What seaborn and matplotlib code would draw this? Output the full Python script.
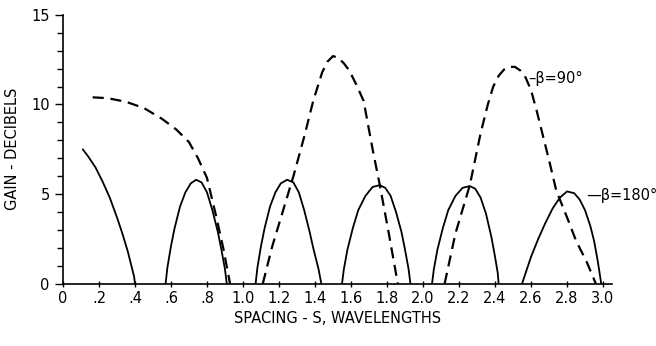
import matplotlib
matplotlib.use("Agg")
import matplotlib.pyplot as plt
import seaborn as sns
import pandas as pd

# beta = 180 deg (solid), six lobes
s180_1 = [0.11, 0.14, 0.18, 0.22, 0.26, 0.30, 0.33, 0.36, 0.38, 0.395, 0.40]
g180_1 = [7.5, 7.1, 6.5, 5.7, 4.8, 3.7, 2.8, 1.8, 1.0, 0.4, 0.0]
s180_2 = [0.57, 0.58, 0.60, 0.62, 0.65, 0.68, 0.71, 0.74, 0.77, 0.80, 0.83, 0.86, 0.88, 0.90, 0.91]
g180_2 = [0.0, 0.9, 2.1, 3.1, 4.3, 5.1, 5.6, 5.8, 5.65, 5.1, 4.1, 2.9, 1.9, 0.8, 0.0]
s180_3 = [1.07, 1.08, 1.10, 1.12, 1.15, 1.18, 1.21, 1.245, 1.28, 1.31, 1.34, 1.37, 1.39, 1.42, 1.435]
g180_3 = [0.0, 0.9, 2.1, 3.1, 4.3, 5.1, 5.6, 5.8, 5.65, 5.1, 4.1, 2.9, 2.0, 0.8, 0.0]
s180_4 = [1.55, 1.56, 1.58, 1.61, 1.64, 1.68, 1.72, 1.76, 1.79, 1.82, 1.85, 1.88, 1.90, 1.92, 1.93]
g180_4 = [0.0, 0.8, 1.9, 3.1, 4.1, 4.9, 5.4, 5.5, 5.35, 4.9, 4.0, 2.9, 1.9, 0.8, 0.0]
s180_5 = [2.05, 2.06, 2.08, 2.11, 2.14, 2.18, 2.22, 2.26, 2.29, 2.32, 2.35, 2.38, 2.40, 2.415, 2.42]
g180_5 = [0.0, 0.8, 1.9, 3.1, 4.1, 4.9, 5.35, 5.45, 5.3, 4.8, 3.9, 2.6, 1.5, 0.6, 0.0]
s180_6 = [2.55, 2.57, 2.60, 2.64, 2.68, 2.72, 2.76, 2.80, 2.84, 2.87, 2.90, 2.93, 2.95, 2.97, 2.99]
g180_6 = [0.0, 0.6, 1.5, 2.5, 3.4, 4.2, 4.8, 5.15, 5.05, 4.7, 4.1, 3.2, 2.4, 1.3, 0.0]

# beta = 90 deg (dashed), three lobes
s90_1 = [0.165, 0.25, 0.35, 0.45, 0.55, 0.63, 0.70, 0.75, 0.80, 0.85, 0.89, 0.928]
g90_1 = [10.4, 10.35, 10.15, 9.8, 9.2, 8.6, 7.9, 7.0, 5.9, 3.8, 2.0, 0.0]
s90_2 = [1.11, 1.16, 1.22, 1.28, 1.34, 1.39, 1.44, 1.47, 1.50, 1.53, 1.56, 1.59, 1.63, 1.67, 1.72, 1.76, 1.81, 1.86]
g90_2 = [0.0, 2.0, 4.0, 6.0, 8.2, 10.2, 11.8, 12.4, 12.7, 12.6, 12.3, 11.9, 11.1, 10.2, 7.5, 5.5, 2.8, 0.0]
s90_3 = [2.12, 2.18, 2.26, 2.32, 2.36, 2.39, 2.42, 2.45, 2.48, 2.51, 2.54, 2.57, 2.60, 2.63,
         2.66, 2.70, 2.74, 2.80, 2.85, 2.91, 2.96]
g90_3 = [0.0, 2.8, 5.5, 8.4, 10.0, 11.0, 11.6, 11.95, 12.1, 12.1, 11.9, 11.5, 10.8, 9.7,
         8.5, 6.9, 5.2, 3.7, 2.4, 1.2, 0.0]

x_ticks = [0, 0.2, 0.4, 0.6, 0.8, 1.0, 1.2, 1.4, 1.6, 1.8, 2.0, 2.2, 2.4, 2.6, 2.8, 3.0]
x_labels = ["0", ".2", ".4", ".6", ".8", "1.0", "1.2", "1.4", "1.6", "1.8",
            "2.0", "2.2", "2.4", "2.6", "2.8", "3.0"]
y_ticks = [0, 5, 10, 15]
y_labels = ["0", "5", "10", "15"]

sns.set_style("ticks")
plt.rcParams["font.family"] = ["DejaVu Sans"]
plt.rcParams["text.color"] = "black"
plt.rcParams["axes.labelcolor"] = "black"
plt.rcParams["xtick.color"] = "black"
plt.rcParams["ytick.color"] = "black"
plt.rcParams["axes.edgecolor"] = "black"

fig = plt.figure(figsize=(6.56, 3.46), dpi=100)
ax = fig.add_axes([0.096, 0.180, 0.837, 0.777])

solid = [(s180_1, g180_1), (s180_2, g180_2), (s180_3, g180_3),
         (s180_4, g180_4), (s180_5, g180_5), (s180_6, g180_6)]
dashed = [(s90_1, g90_1), (s90_2, g90_2), (s90_3, g90_3)]

for s, g in solid:
    df = pd.DataFrame({"s": s, "g": g})
    sns.lineplot(data=df, x="s", y="g", sort=False, estimator=None, ax=ax,
                 color="black", linewidth=1.3)
for s, g in dashed:
    df = pd.DataFrame({"s": s, "g": g})
    sns.lineplot(data=df, x="s", y="g", sort=False, estimator=None, ax=ax,
                 color="black", linewidth=1.6, linestyle=(0, (5, 3)))

ax.set_xlim(0, 3.05)
ax.set_ylim(0, 15)
ax.set_xticks(x_ticks)
ax.set_xticklabels(x_labels)
ax.set_yticks(y_ticks)
ax.set_yticklabels(y_labels)
ax.set_yticks(range(0, 16), minor=True)
ax.tick_params(axis="both", labelsize=10.5, width=1.0, color="black", labelcolor="black")
ax.tick_params(axis="y", which="major", length=6)
ax.tick_params(axis="y", which="minor", length=4, width=1.0)
ax.tick_params(axis="x", which="major", length=4, direction="inout")
ax.spines["top"].set_visible(False)
ax.spines["right"].set_visible(False)
ax.spines["left"].set_linewidth(1.2)
ax.spines["bottom"].set_linewidth(1.2)

ax.set_xlabel("SPACING - S, WAVELENGTHS", fontsize=10.5, labelpad=3)
ax.set_ylabel("GAIN - DECIBELS", fontsize=10.5, labelpad=8)

ax.text(2.585, 11.45, "–β=90°", fontsize=10.5, ha="left", va="center")
ax.text(2.905, 4.95, "—β=180°", fontsize=10.5, ha="left", va="center")

fig.savefig("out.png", dpi=100)
